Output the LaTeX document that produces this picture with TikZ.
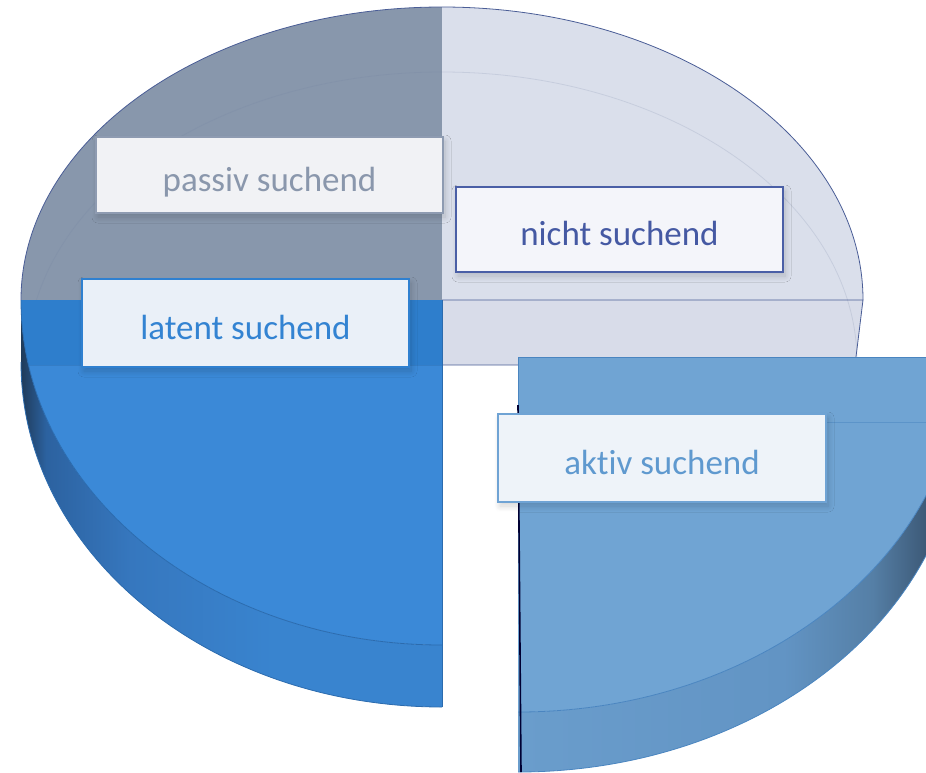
\documentclass[tikz,border=0pt]{standalone}
\usepackage{fontspec}
\setmainfont[Ligatures=NoCommon]{Carlito}
\usetikzlibrary{shadows.blur}

\definecolor{passivtop}{HTML}{8897AC}
\definecolor{nichttop}{HTML}{DADFEB}
\definecolor{nichtband}{HTML}{D8DCE9}
\definecolor{latenttop}{HTML}{3B89D7}
\definecolor{latentband}{HTML}{2E7ECC}
\definecolor{latentside}{HTML}{3984CF}
\definecolor{lsdark}{HTML}{1F3B5A}
\definecolor{lsmid}{HTML}{2C62A0}
\definecolor{lsmid2}{HTML}{3677BE}
\definecolor{aktivtop}{HTML}{70A4D3}
\definecolor{aktivside}{HTML}{6A9DCC}
\definecolor{asmid}{HTML}{6294C4}
\definecolor{asmid2}{HTML}{557FA6}
\definecolor{asdark}{HTML}{3D5A78}
\definecolor{asdarker}{HTML}{2A3E55}
\definecolor{edgeback}{HTML}{4A5D96}
\definecolor{edgelatent}{HTML}{2B6BAE}
\definecolor{edgeaktiv}{HTML}{4A85C0}
\definecolor{faint}{HTML}{6F7FA0}
\definecolor{passivfill}{HTML}{F1F2F5}
\definecolor{passivborder}{HTML}{8E9BB1}
\definecolor{passivtext}{HTML}{8A97AC}
\definecolor{nichtfill}{HTML}{F4F5FA}
\definecolor{nichtborder}{HTML}{4A5FA6}
\definecolor{nichttext}{HTML}{4559A3}
\definecolor{latentfill}{HTML}{EAF0F8}
\definecolor{latentborder}{HTML}{2F80D0}
\definecolor{latenttext}{HTML}{3383D2}
\definecolor{aktivfill}{HTML}{EEF3F9}
\definecolor{aktivborder}{HTML}{6FA3D4}
\definecolor{aktivtext}{HTML}{5F99CF}

\pgfdeclarehorizontalshading{latentshade}{100bp}{%
  color(0bp)=(lsdark); color(25bp)=(lsdark); color(28bp)=(lsmid);
  color(38bp)=(lsmid2); color(55bp)=(latentside); color(100bp)=(latentside)}
\pgfdeclarehorizontalshading{aktivshade}{100bp}{%
  color(0bp)=(aktivside); color(25bp)=(aktivside); color(55bp)=(asmid);
  color(65bp)=(asmid2); color(71bp)=(asdark); color(75bp)=(asdarker);
  color(100bp)=(asdarker)}

\tikzset{
  lbl/.style={draw, line width=2pt, font=\fontsize{35}{40}\selectfont,
    text height=32pt, text depth=0pt, inner sep=0pt,
    blur shadow={shadow blur steps=20, shadow xshift=2pt, shadow yshift=-4pt,
      shadow opacity=18, shadow blur radius=6pt}},
  edge/.style={line width=0.8pt},
}

\begin{document}
\begin{tikzpicture}[x=1pt,y=-1pt]
\useasboundingbox (0,0) rectangle (926,772);
\clip (0,0) rectangle (926,772);

% back half: top faces
\fill[passivtop] (442,300) -- (21,300)
  arc[start angle=180, end angle=270, x radius=421, y radius=293] -- cycle;
\fill[nichttop] (442,300) -- (442,7)
  arc[start angle=270, end angle=360, x radius=421, y radius=293] -- cycle;
% back half: flat face along the diameter
\fill[nichtband] (442,300) -- (863,300) -- (855,365) -- (442,365) -- cycle;

% lower rim of the back half, seen through the top
\begin{scope}
  \clip (21,0) rectangle (442,300) (442,0) rectangle (870,365);
  \draw[faint, opacity=0.18, line width=0.8pt] (27,362)
    arc[start angle=180, end angle=360, x radius=415, y radius=290];
\end{scope}

% back half: outlines
\draw[edgeback, edge] (21,300)
  arc[start angle=180, end angle=360, x radius=421, y radius=293];
\draw[edgeback, edge] (442,300) -- (863,300) -- (855,365) -- (442,365);

% front left quarter: latent
\shade[shading=latentshade] (21,300)
  arc[start angle=180, end angle=90, x radius=421, y radius=345]
  -- (442,707)
  arc[start angle=90, end angle=180, x radius=421, y radius=345] -- cycle;
\fill[latenttop] (442,300) -- (21,300)
  arc[start angle=180, end angle=90, x radius=421, y radius=345] -- cycle;
\begin{scope}
  \clip (442,300) -- (21,300)
    arc[start angle=180, end angle=90, x radius=421, y radius=345] -- cycle;
  \fill[latentband] (0,300) rectangle (442,365);
  \draw[edgelatent, opacity=0.4, line width=0.6pt] (0,365) -- (442,365);
\end{scope}
\draw[edgelatent, edge] (21,300)
  arc[start angle=180, end angle=90, x radius=421, y radius=345];
\draw[edgelatent, edge] (21,362)
  arc[start angle=180, end angle=90, x radius=421, y radius=345];
\draw[edgelatent, edge] (442,300) -- (442,707);

% front right quarter: aktiv
\shade[shading=aktivshade] (961,357)
  arc[start angle=0, end angle=90, x radius=443, y radius=355]
  -- (518,772)
  arc[start angle=90, end angle=0, x radius=443, y radius=355] -- cycle;
\fill[aktivtop] (518,357) -- (961,357)
  arc[start angle=0, end angle=90, x radius=443, y radius=355] -- cycle;
\draw[edgeaktiv, edge] (518,357) -- (961,357);
\draw[edgeaktiv, edge] (961,357)
  arc[start angle=0, end angle=90, x radius=443, y radius=355];
\draw[edgeaktiv, edge] (961,417)
  arc[start angle=0, end angle=90, x radius=443, y radius=355];
\draw[edgeaktiv, opacity=0.5, line width=0.6pt] (826,422) -- (926,422);
\draw[edgeaktiv, edge] (518,357) -- (518,405);
\draw[black!80!blue, line width=1.6pt] (518,405) -- (521,772);

% labels
\node[lbl, draw=passivborder, fill=passivfill, text=passivtext,
  minimum width=347pt, minimum height=76pt] (passiv) at (269.5,175)
  {passiv suchend};
\node[lbl, draw=nichtborder, line width=2.5pt, fill=nichtfill, text=nichttext,
  minimum width=327pt, minimum height=85pt] (nicht) at (619.5,229.5)
  {nicht suchend};
\node[lbl, draw=latentborder, fill=latentfill, text=latenttext,
  minimum width=327pt, minimum height=88pt] (latent) at (245.5,323)
  {latent suchend};
\node[lbl, draw=aktivborder, fill=aktivfill, text=aktivtext,
  minimum width=328pt, minimum height=88pt] (aktiv) at (662,458)
  {aktiv suchend};
\end{tikzpicture}
\end{document}
